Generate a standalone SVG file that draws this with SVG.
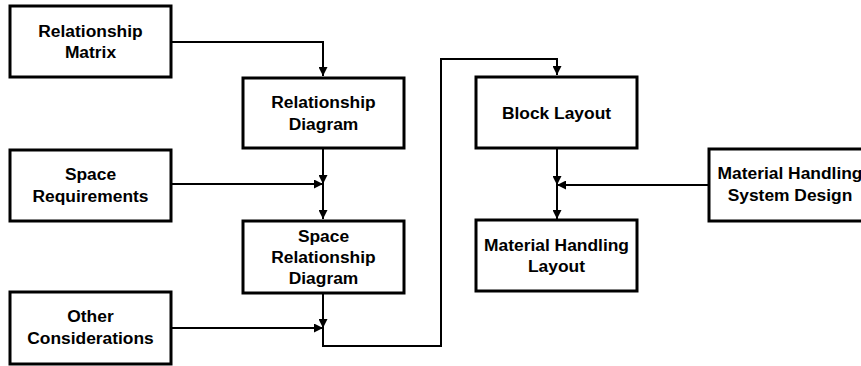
<svg xmlns="http://www.w3.org/2000/svg" width="861" height="366" viewBox="0 0 861 366">
<style>
.box{fill:#fff;stroke:#000;stroke-width:3}
.t{font-family:"Liberation Sans",Arial,sans-serif;font-weight:bold;font-size:17.4px;text-anchor:middle;fill:#000}
.c{fill:none;stroke:#000;stroke-width:2}
</style>
<defs>
<marker id="ah" viewBox="0 0 10 10" refX="10" refY="5" markerWidth="9" markerHeight="9" markerUnits="userSpaceOnUse" orient="auto">
<path d="M0,0 L10,5 L0,10 z" fill="#000"/>
</marker>
</defs>
<g id="connectors">
<path class="c" d="M171,42 H323 V76" marker-end="url(#ah)"/>
<path class="c" d="M323,149 V184" marker-end="url(#ah)"/>
<path class="c" d="M172,184 H323" marker-end="url(#ah)"/>
<path class="c" d="M323,184 V219" marker-end="url(#ah)"/>
<path class="c" d="M323,294 V328" marker-end="url(#ah)"/>
<path class="c" d="M172,328 H323" marker-end="url(#ah)"/>
<path class="c" d="M323,328 V346 H441 V59 H557 V75" marker-end="url(#ah)"/>
<path class="c" d="M557,149 V185" marker-end="url(#ah)"/>
<path class="c" d="M708,185 H557" marker-end="url(#ah)"/>
<path class="c" d="M557,185 V219" marker-end="url(#ah)"/>
</g>
<g id="relationship-matrix">
<rect class="box" x="10" y="6" width="161" height="71"/>
<text class="t" x="90.5" y="36.5">Relationship</text>
<text class="t" x="90.5" y="58">Matrix</text>
</g>
<g id="relationship-diagram">
<rect class="box" x="243" y="78" width="161" height="70"/>
<text class="t" x="323.5" y="108">Relationship</text>
<text class="t" x="323.5" y="129.5">Diagram</text>
</g>
<g id="space-requirements">
<rect class="box" x="10" y="150" width="161" height="71"/>
<text class="t" x="90.5" y="180">Space</text>
<text class="t" x="90.5" y="201.5">Requirements</text>
</g>
<g id="space-relationship-diagram">
<rect class="box" x="243" y="221" width="161" height="72"/>
<text class="t" x="323.5" y="241.5">Space</text>
<text class="t" x="323.5" y="262.5">Relationship</text>
<text class="t" x="323.5" y="283.5">Diagram</text>
</g>
<g id="other-considerations">
<rect class="box" x="10" y="292" width="161" height="72"/>
<text class="t" x="90.5" y="322">Other</text>
<text class="t" x="90.5" y="343.5">Considerations</text>
</g>
<g id="block-layout">
<rect class="box" x="476" y="77" width="161" height="71"/>
<text class="t" x="556.5" y="118.5">Block Layout</text>
</g>
<g id="material-handling-layout">
<rect class="box" x="476" y="220" width="161" height="71"/>
<text class="t" x="556.5" y="250.5">Material Handling</text>
<text class="t" x="556.5" y="272">Layout</text>
</g>
<g id="material-handling-system-design">
<rect class="box" x="709" y="149" width="161" height="72"/>
<text class="t" x="790" y="179">Material Handling</text>
<text class="t" x="790" y="200.5">System Design</text>
</g>
</svg>
